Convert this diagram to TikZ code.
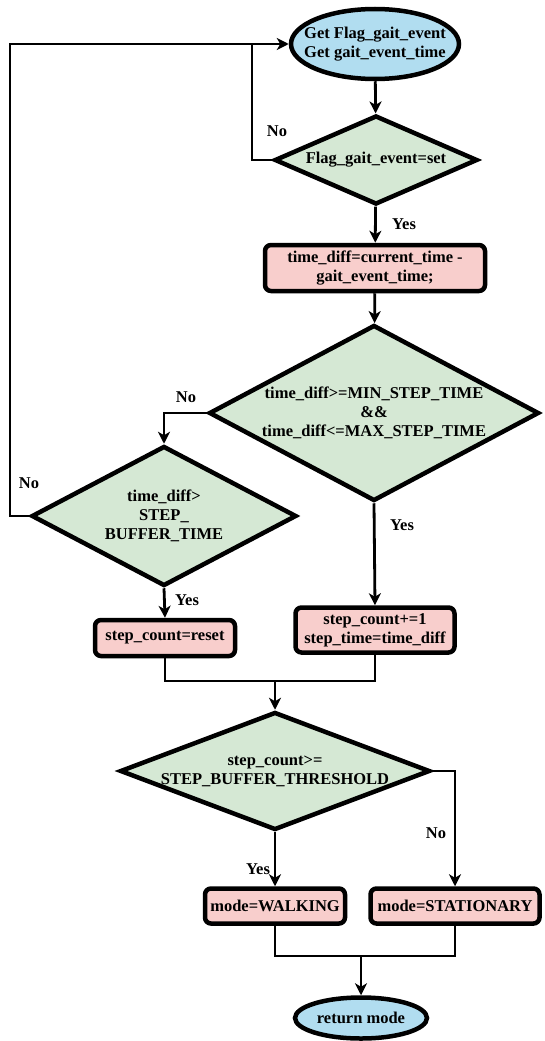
\documentclass[tikz,border=0pt]{standalone}
\usepackage{fontspec}
\setmainfont{Liberation Serif}
\usetikzlibrary{shapes.geometric,arrows.meta}
\definecolor{cblue}{HTML}{B1DDF0}
\definecolor{cgreen}{HTML}{D5E8D4}
\definecolor{cpink}{HTML}{F8CECC}
\begin{document}
\begin{tikzpicture}[x=1pt,y=-1pt,
  txt/.style={font=\fontsize{16.5}{19}\selectfont\bfseries, align=center, inner sep=0pt},
  shp/.style={draw, line width=4.5pt, inner sep=0pt, outer sep=2.25pt},
  ell/.style={shp, ellipse, fill=cblue},
  dia/.style={shp, diamond, fill=cgreen, aspect=2},
  box/.style={shp, rectangle, rounded corners=6pt, fill=cpink, txt},
  line/.style={line width=2.8pt},
  arr/.style={line, -{Stealth[length=12pt,width=12pt,inset=3.5pt]}},
  lab/.style={txt}]
\useasboundingbox (0,0) rectangle (544,1041);
% shapes
\node[ell, minimum width=168pt, minimum height=70pt,
  label={[txt]center:{Get Flag\_gait\_event\\Get gait\_event\_time}}] (start) at (375,44) {};
\node[dia, minimum width=203pt, minimum height=89pt,
  label={[txt]center:{Flag\_gait\_event=set}}] (d1) at (376,160) {};
\node[box, minimum width=220pt, minimum height=46pt] (b1) at (375,268)
  {time\_diff=current\_time -\\gait\_event\_time;};
\node[dia, minimum width=330pt, minimum height=176pt,
  label={[txt]center:{time\_diff>=MIN\_STEP\_TIME\\\&\&\\time\_diff<=MAX\_STEP\_TIME}}] (d2) at (374,413) {};
\node[dia, minimum width=265pt, minimum height=140pt,
  label={[txt]center:{time\_diff>\\STEP\_\\BUFFER\_TIME}}] (d3) at (164,516) {};
\node[box, minimum width=140pt, minimum height=36pt] (reset) at (165,638) {step\_count=reset};
\node[box, minimum width=159pt, minimum height=45pt] (inc) at (375,630) {step\_count+=1\\step\_time=time\_diff};
\node[dia, minimum width=310pt, minimum height=118pt,
  label={[txt]center:{step\_count>=\\STEP\_BUFFER\_THRESHOLD}}] (d4) at (275,771) {};
\node[box, minimum width=140pt, minimum height=35pt] (walk) at (275,906) {mode=WALKING};
\node[box, minimum width=169pt, minimum height=35pt] (stat) at (455,906) {mode=STATIONARY};
\node[ell, minimum width=132pt, minimum height=41pt,
  label={[txt]center:{return mode}}] (end) at (361,1018) {};
% helper coordinates
\coordinate (lx) at (10,0);
\coordinate (jx) at (252,0);
\coordinate (m1) at (275,681);
\coordinate (m2) at (361,956);
% connectors
\draw[arr] (start) -- (d1);
\draw[arr] (d1) -- (b1);
\draw[arr] (b1) -- (d2);
\draw[line] (d1.west) -- (d1.west -| jx) -- (jx |- start.west);
\draw[arr] (d3.west) -- (d3.west -| lx) |- (start.west);
\draw[arr] (d2.west) -| (d3.north);
\draw[arr] (d2.south) -- (inc.north);
\draw[arr] (d3.south) -- (reset.north);
\draw[line] (reset.south) |- (m1);
\draw[line] (inc.south) |- (m1);
\draw[arr] (m1) -- (d4.north);
\draw[arr] (d4.south) -- (walk.north);
\draw[arr] (d4.east) -| (stat.north);
\draw[line] (walk.south) |- (m2);
\draw[line] (stat.south) |- (m2);
\draw[arr] (m2) -- (end.north);
% labels
\node[lab] (l1) at (277,131) {No};
\node[lab] (l2) at (404,224) {Yes};
\node[lab] (l3) at (186,397) {No};
\node[lab] (l4) at (402,525) {Yes};
\node[lab] (l5) at (29,483) {No};
\node[lab] (l6) at (187,600) {Yes};
\node[lab] (l7) at (258,869) {Yes};
\node[lab] (l8) at (436,833) {No};
\end{tikzpicture}
\end{document}
